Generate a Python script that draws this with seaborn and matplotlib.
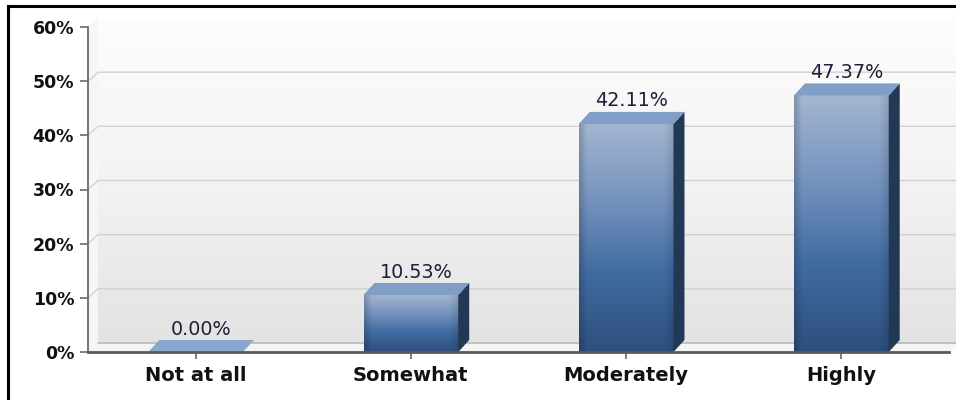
import numpy as np
import pandas as pd
import matplotlib
matplotlib.use("Agg")
import matplotlib.pyplot as plt
import seaborn as sns
from matplotlib.colors import LinearSegmentedColormap
from matplotlib.patches import Polygon
from matplotlib.lines import Line2D

# ---- data ----
categories = ["Not at all", "Somewhat", "Moderately", "Highly"]
percentages = [0.00, 10.53, 42.11, 47.37]
y_ticks = [0, 10, 20, 30, 40, 50, 60]
y_tick_labels = ["0%", "10%", "20%", "30%", "40%", "50%", "60%"]

sns.set_style("white")
plt.rcParams["font.family"] = ["DejaVu Sans"]

W, H = 956, 400
fig = plt.figure(figsize=(W / 100, H / 100), dpi=100)
fig.patch.set_facecolor("white")

ax_left, ax_right, ax_top, ax_bottom = 88, 949, 27, 352
ax = fig.add_axes([ax_left / W, 1 - ax_bottom / H,
                   (ax_right - ax_left) / W, (ax_bottom - ax_top) / H])

df = pd.DataFrame({"category": categories, "pct": percentages})
sns.barplot(data=df, x="category", y="pct", ax=ax, width=0.44,
            color="#3f6aa0", saturation=1, zorder=3)

ax.set_xlim(-0.5, 3.5)
ax.set_ylim(0, 60)
ax.set_facecolor("none")

# pixel -> data conversions
px_x = (ax_right - ax_left) / 4.0
px_y = (ax_bottom - ax_top) / 60.0
wx, wy = 10 / px_x, 9 / px_y       # wall depth
bx, by = 11 / px_x, 12 / px_y      # bar depth

# back wall gradient
grad = np.linspace(0, 1, 256).reshape(-1, 1)
wall_cmap = LinearSegmentedColormap.from_list("wall", ["#fdfdfd", "#f3f3f3", "#e3e3e3"])
im = ax.imshow(grad, extent=[-0.5 + wx, 3.5 + wx, wy, 60 + wy], aspect="auto",
               cmap=wall_cmap, origin="upper", zorder=0, interpolation="bilinear")
im.set_clip_on(False)

# left side wall & floor
lw_poly = Polygon([(-0.5, 0), (-0.5 + wx, wy), (-0.5 + wx, 60 + wy), (-0.5, 60)],
                  closed=True, facecolor="#f6f6f6", edgecolor="none", zorder=0.5, clip_on=False)
ax.add_patch(lw_poly)
floor = Polygon([(-0.5, 0), (3.5, 0), (3.5 + wx, wy), (-0.5 + wx, wy)],
                closed=True, facecolor="#f4f4f4", edgecolor="none", zorder=0.5, clip_on=False)
ax.add_patch(floor)
ax.plot([-0.5 + wx, 3.5 + wx], [wy, wy], color="#b8b8b8", lw=1.2, zorder=0.6, clip_on=False)

# gridlines on wall
for t in y_ticks[1:-1]:
    ax.plot([-0.5, -0.5 + wx, 3.5 + wx], [t, t + wy, t + wy], color="#d2d2d2",
            lw=1.0, zorder=0.6, clip_on=False)

ax.set_xlim(-0.5, 3.5)
ax.set_ylim(0, 60)

# bar styling
bar_cmap = LinearSegmentedColormap.from_list(
    "bar", [(0.0, "#a4b6d1"), (0.35, "#7391bd"), (0.65, "#416ca2"), (1.0, "#2e4f7e")])
ncol = 60
edge = np.linspace(0, 1, ncol)
hshade = 1 - 0.18 * np.clip(1 - edge / 0.08, 0, 1) - 0.12 * np.clip((edge - 0.9) / 0.1, 0, 1)

for patch, val in zip(ax.patches[:len(percentages)], percentages):
    x0 = patch.get_x()
    w = patch.get_width()
    h = patch.get_height()
    patch.set_visible(False)
    if h > 0:
        rows = bar_cmap(np.linspace(0, 1, 200))[:, :3]
        img = rows[:, None, :] * hshade[None, :, None]
        ax.imshow(img, extent=[x0, x0 + w, 0, h], aspect="auto", origin="upper",
                  zorder=3, interpolation="bilinear")
        side = Polygon([(x0 + w, 0), (x0 + w + bx, by), (x0 + w + bx, h + by), (x0 + w, h)],
                       closed=True, facecolor="#223956", edgecolor="none", zorder=3)
        ax.add_patch(side)
        top_c = "#809ec6"
    else:
        top_c = "#8aa7cd"
    top = Polygon([(x0, h), (x0 + bx, h + by), (x0 + w + bx, h + by), (x0 + w, h)],
                  closed=True, facecolor=top_c, edgecolor="none", zorder=3.1)
    ax.add_patch(top)
    ax.text(x0 + w / 2 + bx / 2, h + by + 1.0, f"{val:.2f}%", ha="center", va="baseline",
            fontsize=13.8, color="#1e1e38", zorder=5)

ax.set_xlim(-0.5, 3.5)
ax.set_ylim(0, 60)

# axes
for s in ["top", "right"]:
    ax.spines[s].set_visible(False)
ax.spines["left"].set_color("#6a6a6a")
ax.spines["left"].set_linewidth(1.3)
ax.spines["bottom"].set_color("#5a5a5a")
ax.spines["bottom"].set_linewidth(2.0)
ax.spines["left"].set_zorder(6)
ax.spines["bottom"].set_zorder(6)

ax.set_yticks(y_ticks)
ax.set_yticklabels(y_tick_labels)
ax.set_xticks(range(len(categories)))
ax.set_xticklabels(categories)
ax.tick_params(axis="y", length=6, width=1.2, color="#6a6a6a", pad=4, labelsize=12.5,
               labelcolor="#111111", left=True)
ax.tick_params(axis="x", length=5, width=1.2, color="#6a6a6a", pad=5, labelsize=14,
               labelcolor="#111111", bottom=True)
for lab in ax.get_xticklabels() + ax.get_yticklabels():
    lab.set_fontweight("bold")
ax.set_xlabel("")
ax.set_ylabel("")
ax.grid(False)

# outer frame (left and top)
fig.add_artist(Line2D([7.5 / W, 7.5 / W], [0, 1 - 5.5 / H], transform=fig.transFigure,
                      color="black", lw=2.2, solid_capstyle="projecting"))
fig.add_artist(Line2D([7.5 / W, 1.01], [1 - 5.5 / H, 1 - 5.5 / H], transform=fig.transFigure,
                      color="black", lw=2.2, solid_capstyle="projecting"))

fig.savefig("out.png", dpi=100)
